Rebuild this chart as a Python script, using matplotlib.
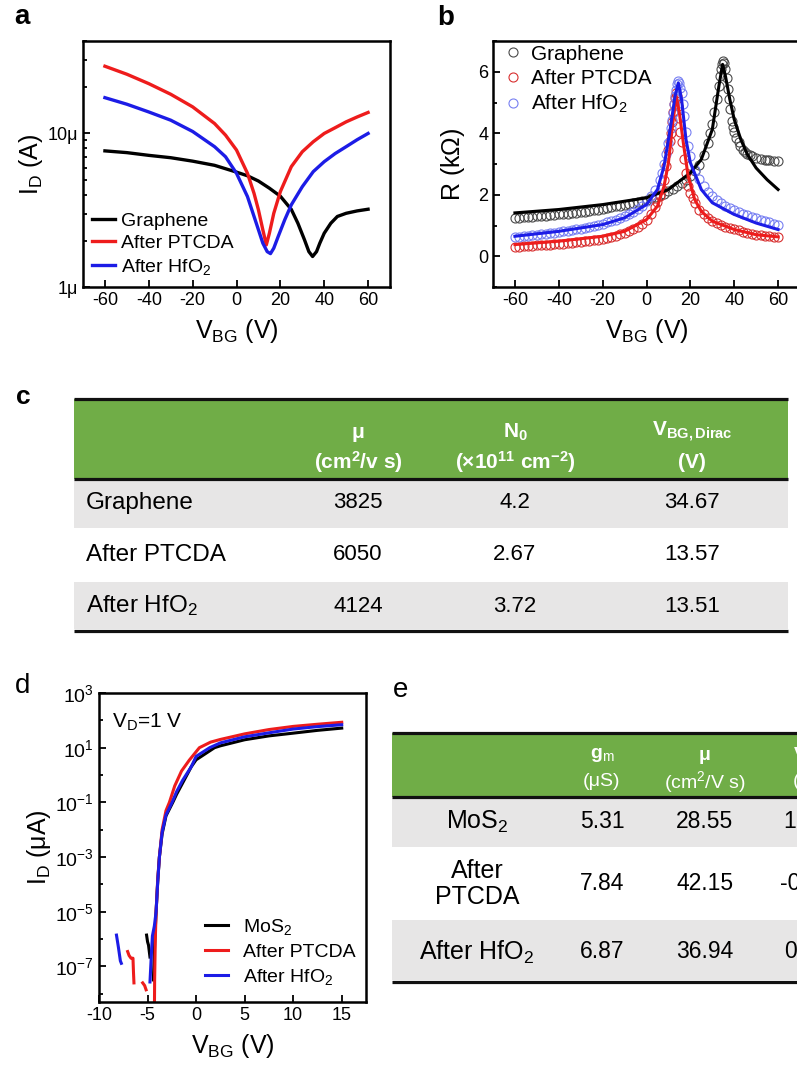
import numpy as np
import matplotlib.pyplot as plt
from matplotlib.patches import Rectangle
from matplotlib.ticker import FixedLocator, LogLocator, MultipleLocator, NullFormatter

plt.rcParams['font.family'] = ['Liberation Sans', 'DejaVu Sans']
plt.rcParams['mathtext.fontset'] = 'custom'
plt.rcParams['mathtext.rm'] = 'Liberation Sans'
plt.rcParams['mathtext.it'] = 'Liberation Sans:italic'
plt.rcParams['mathtext.bf'] = 'Liberation Sans:bold'
plt.rcParams['axes.unicode_minus'] = False

# ---- (a) graphene transfer curves, I_D in uA ----
vg_a_gr = [-60, -50, -40, -30, -20, -10, 0, 5, 10, 15, 20, 25, 28, 31, 33, 34.7, 36.5, 38, 40, 43, 46, 50, 55, 60]
id_a_gr = [7.7, 7.5, 7.2, 6.95, 6.6, 6.2, 5.6, 5.3, 4.9, 4.4, 3.9, 3.2, 2.6, 2.03, 1.7, 1.58, 1.7, 1.93, 2.24, 2.6, 2.88, 3.02, 3.13, 3.21]
vg_a_pt = [-60, -50, -40, -30, -20, -10, -5, 0, 5, 8, 10, 12, 13.6, 15, 17, 20, 25, 30, 35, 40, 45, 50, 55, 60]
id_a_pt = [27.4, 24.3, 21.1, 18.0, 14.9, 11.6, 9.75, 7.8, 5.5, 4.07, 3.18, 2.36, 1.88, 2.24, 3.02, 4.18, 6.08, 7.6, 8.83, 10.0, 10.9, 11.9, 12.8, 13.7]
vg_a_hf = [-60, -50, -40, -30, -20, -10, -5, 0, 5, 8, 10, 12, 14, 15.5, 17, 19, 22, 25, 30, 35, 40, 45, 50, 55, 60]
id_a_hf = [17.1, 15.5, 13.8, 12.2, 10.3, 8.2, 7.05, 5.5, 3.88, 2.88, 2.36, 1.93, 1.7, 1.65, 1.79, 2.13, 2.74, 3.43, 4.5, 5.64, 6.55, 7.4, 8.2, 9.1, 10.0]

# ---- (b) resistance, measured points and fits, kOhm ----
vg_b_gr = [-60, -58, -56, -54, -52, -50, -48, -46, -44, -42, -40, -38, -36, -34, -32, -30, -28, -26, -24, -22,
           -20, -18, -16, -14, -12, -10, -8, -6, -4, -2, 0, 2, 4, 6, 8, 10, 12, 14, 16, 18,
           20, 22, 24, 26, 28, 29, 30, 31, 32, 33, 33.5, 34, 34.5, 35, 35.5, 36, 36.5, 37, 37.5, 38,
           39, 39.5, 40, 41, 42, 42.6, 44, 45, 46, 47, 48, 50, 52, 54, 55, 56, 58, 60]
r_b_gr = [1.25, 1.26, 1.27, 1.28, 1.29, 1.30, 1.31, 1.32, 1.33, 1.35, 1.36, 1.37, 1.39, 1.40, 1.42, 1.43, 1.45, 1.47, 1.49, 1.51,
          1.54, 1.56, 1.59, 1.62, 1.65, 1.68, 1.71, 1.74, 1.78, 1.81, 1.84, 1.88, 1.93, 1.98, 2.04, 2.11, 2.19, 2.28, 2.38, 2.48,
          2.60, 2.77, 2.98, 3.28, 3.68, 4.00, 4.30, 4.70, 5.10, 5.55, 5.85, 6.10, 6.25, 6.34, 6.30, 6.10, 5.80, 5.45, 5.10, 4.80,
          4.40, 4.20, 4.05, 3.85, 3.70, 3.60, 3.47, 3.40, 3.34, 3.28, 3.25, 3.20, 3.17, 3.14, 3.13, 3.12, 3.10, 3.09]
vg_b_pt = [-60, -58, -56, -54, -52, -50, -48, -46, -44, -42, -40, -38, -36, -34, -32, -30, -28, -26, -24, -22,
           -20, -18, -16, -14, -12, -10, -8, -6, -4, -2, 0, 2, 4, 5, 6, 7, 8, 9, 10, 10.5,
           11, 11.5, 12, 12.5, 13, 13.5, 14, 14.5, 15, 15.5, 16, 17, 18, 19, 20, 21, 22, 24, 26, 28,
           30, 32, 34, 36, 38, 40, 42, 44, 46, 48, 50, 52, 54, 56, 58, 60]
r_b_pt = [0.30, 0.31, 0.32, 0.33, 0.34, 0.35, 0.36, 0.37, 0.38, 0.39, 0.40, 0.41, 0.43, 0.44, 0.46, 0.47, 0.49, 0.51, 0.53, 0.54,
          0.56, 0.60, 0.63, 0.67, 0.71, 0.76, 0.82, 0.88, 0.96, 1.06, 1.19, 1.36, 1.60, 1.76, 1.95, 2.20, 2.49, 2.95, 3.47, 3.75,
          4.00, 4.35, 4.70, 4.95, 5.15, 5.31, 5.20, 4.88, 4.50, 4.05, 3.70, 3.15, 2.70, 2.28, 2.05, 1.88, 1.74, 1.52, 1.36, 1.24,
          1.14, 1.07, 1.01, 0.96, 0.91, 0.87, 0.84, 0.80, 0.77, 0.73, 0.70, 0.68, 0.66, 0.65, 0.64, 0.63]
vg_b_hf = [-60, -58, -56, -54, -52, -50, -48, -46, -44, -42, -40, -38, -36, -34, -32, -30, -28, -26, -24, -22,
           -20, -18, -16, -14, -12, -10, -8, -6, -4, -2, 0, 2, 4, 6, 7, 8, 9, 10, 11, 11.5,
           12, 12.5, 13, 13.5, 14, 14.5, 15, 15.5, 16, 16.5, 17, 18, 19, 20, 22, 24, 26, 28, 30, 32,
           34, 36, 38, 40, 42, 44, 46, 48, 50, 52, 54, 56, 58, 60]
r_b_hf = [0.63, 0.64, 0.66, 0.67, 0.69, 0.70, 0.72, 0.73, 0.75, 0.77, 0.79, 0.81, 0.83, 0.85, 0.87, 0.90, 0.93, 0.96, 0.99, 1.02,
          1.06, 1.10, 1.15, 1.19, 1.24, 1.30, 1.37, 1.45, 1.54, 1.65, 1.79, 1.96, 2.17, 2.48, 2.71, 3.00, 3.33, 3.69, 4.17, 4.42,
          4.66, 4.95, 5.20, 5.42, 5.60, 5.69, 5.62, 5.48, 5.30, 4.95, 4.56, 4.05, 3.58, 3.25, 2.82, 2.52, 2.30, 2.10, 1.95, 1.84,
          1.73, 1.63, 1.56, 1.50, 1.44, 1.39, 1.34, 1.28, 1.23, 1.19, 1.15, 1.10, 1.06, 1.03]

fit_vg_gr = [-60, -40, -20, 0, 10, 20, 25, 30, 33, 34.7, 36, 38, 40, 43, 46, 50, 55, 60]
fit_r_gr = [1.41, 1.52, 1.68, 1.90, 2.17, 2.71, 3.15, 4.12, 5.53, 6.24, 5.86, 5.10, 4.45, 3.80, 3.31, 2.87, 2.49, 2.17]
fit_vg_pt = [-60, -40, -20, -10, 0, 5, 8, 10, 12, 13.6, 15, 17, 19, 22, 25, 30, 40, 50, 60]
fit_r_pt = [0.38, 0.49, 0.65, 0.81, 1.19, 1.63, 2.28, 3.04, 4.34, 5.20, 4.66, 3.58, 2.60, 1.84, 1.46, 1.14, 0.87, 0.70, 0.63]
fit_vg_hf = [-60, -40, -20, -10, 0, 5, 8, 11, 13, 14.5, 16, 18, 20, 25, 30, 40, 50, 60]
fit_r_hf = [0.65, 0.81, 1.03, 1.25, 1.68, 2.17, 2.93, 4.23, 5.20, 5.64, 5.10, 3.80, 3.04, 2.17, 1.74, 1.36, 1.08, 0.87]

# ---- (c) graphene table ----
c_rows = ['Graphene', 'After PTCDA', 'After HfO$_2$']
c_mu = ['3825', '6050', '4124']
c_n0 = ['4.2', '2.67', '3.72']
c_vdirac = ['34.67', '13.57', '13.51']

# ---- (d) MoS2 transfer curves, I_D in uA (nan separates segments) ----
vg_d_mos = [-5.1, -5.0, -4.9, -4.75, np.nan,
            -4.4, -4.25, -4.12, -3.95, -3.78, -3.5, -3.1, -2.4, -2.0, -1.4, -0.5, 0, 1.9, 2.5, 5, 7.5, 10, 12.5, 15]
id_d_mos = [1.4e-6, 8e-7, 6e-7, 2.2e-7, np.nan,
            3.2e-8, 1e-6, 1e-5, 1.3e-4, 1e-3, 7e-3, 0.032, 0.1, 0.2, 0.5, 2.0, 3.6, 10, 11.7, 19.5, 27, 34, 43, 52]
vg_d_pt = [-7.05, -6.9, -6.7, -6.5, -6.45, -6.4, np.nan, -5.5, -5.3, -5.15, np.nan,
           -4.3, -4.27, -4.2, -4.12, -3.95, -3.78, -3.5, -3.1, -2.75, -2.2, -1.5, -0.7, 0.34, 1.5, 2.5, 5, 7.5, 10, 12.5, 15]
id_d_pt = [3.5e-7, 2.5e-7, 2e-7, 2e-7, 6.3e-8, 2.5e-8, np.nan, 2.5e-8, 2e-8, 1.4e-8, np.nan,
           1e-9, 3.2e-8, 1e-6, 1e-5, 1.6e-4, 1e-3, 1e-2, 0.05, 0.1, 0.4, 1.4, 3.5, 10, 16, 20, 32, 46, 60, 72, 85]
vg_d_hf = [-8.2, -8.0, -7.8, -7.7, np.nan,
           -4.75, -4.6, -4.5, -4.3, -4.12, -3.95, -3.78, -3.5, -3.1, -2.47, -2.0, -1.4, -0.5, 0, 1.4, 2.5, 5, 7.5, 10, 12.5, 15]
id_d_hf = [1.4e-6, 5e-7, 1.6e-7, 1.3e-7, np.nan,
           2.7e-8, 3e-7, 1.3e-6, 3e-6, 1e-5, 1.3e-4, 1e-3, 8e-3, 0.035, 0.1, 0.25, 0.63, 2.0, 4.8, 10, 15, 25, 35, 48, 59, 69]

# ---- (e) MoS2 table ----
e_rows = ['MoS$_2$', 'After\nPTCDA', 'After HfO$_2$']
e_gm = ['5.31', '7.84', '6.87']
e_mu = ['28.55', '42.15', '36.94']
e_vth = ['1.19', '-0.52', '0.27']

RED = '#ee1c1c'
BLUE = '#1c1ce6'
GREEN = '#70ad47'
GRAY = '#e7e6e6'

W, H = 797, 1081
fig = plt.figure(figsize=(W / 100, H / 100), dpi=100)


def px_box(l, t, r, b):
    return [l / W, 1 - b / H, (r - l) / W, (b - t) / H]


def style_axes(ax):
    for s in ax.spines.values():
        s.set_linewidth(1.8)
    ax.tick_params(which='both', direction='in', labelsize=13, width=1.3)
    ax.tick_params(which='major', length=5)
    ax.tick_params(which='minor', length=3)
    ax.tick_params(axis='y', which='both', right=False)
    ax.tick_params(axis='x', which='both', top=False)


# panel a
ax = fig.add_axes(px_box(83, 41, 390, 287))
ax.plot(vg_a_gr, np.array(id_a_gr) * 1e-6, color='black', lw=2.4, label='Graphene')
ax.plot(vg_a_pt, np.array(id_a_pt) * 1e-6, color=RED, lw=2.4, label='After PTCDA')
ax.plot(vg_a_hf, np.array(id_a_hf) * 1e-6, color=BLUE, lw=2.4, label='After HfO$_2$')
ax.set_yscale('log')
ax.set_xlim(-70, 70)
ax.set_ylim(1e-6, 4e-5)
ax.set_xticks([-60, -40, -20, 0, 20, 40, 60])
ax.yaxis.set_major_locator(FixedLocator([1e-6, 1e-5]))
ax.yaxis.set_minor_locator(LogLocator(base=10, subs=np.arange(2, 10)))
ax.yaxis.set_minor_formatter(NullFormatter())
ax.set_yticklabels(['1μ', '10μ'])
style_axes(ax)
ax.set_xlabel('V$_\\mathrm{BG}$ (V)', fontsize=18, labelpad=6)
ax.set_ylabel('I$_\\mathrm{D}$ (A)', fontsize=18, labelpad=2)
ax.legend(loc='lower left', bbox_to_anchor=(0.03, 0.04), frameon=False, fontsize=14,
          handlelength=1.15, handletextpad=0.35, labelspacing=0.25, borderpad=0, borderaxespad=0)

# panel b
bx = fig.add_axes(px_box(493, 41, 800, 287))
bx.plot(vg_b_gr, r_b_gr, 'o', mfc='none', mec='#4a4a4a', ms=6.5, mew=0.8, label='Graphene')
bx.plot(vg_b_pt, r_b_pt, 'o', mfc='none', mec='#d83030', ms=6.5, mew=0.8, label='After PTCDA')
bx.plot(vg_b_hf, r_b_hf, 'o', mfc='none', mec='#7880f2', ms=6.5, mew=0.8, label='After HfO$_2$')
bx.plot(fit_vg_gr, fit_r_gr, color='black', lw=2.2)
bx.plot(fit_vg_pt, fit_r_pt, color=RED, lw=2.2)
bx.plot(fit_vg_hf, fit_r_hf, color=BLUE, lw=2.2)
bx.set_xlim(-70, 70)
bx.set_ylim(-1, 7)
bx.set_xticks([-60, -40, -20, 0, 20, 40, 60])
bx.set_yticks([0, 2, 4, 6])
bx.yaxis.set_minor_locator(MultipleLocator(1))
style_axes(bx)
bx.set_xlabel('V$_\\mathrm{BG}$ (V)', fontsize=18, labelpad=6)
bx.set_ylabel('R (k$\\Omega$)', fontsize=18, labelpad=8)
bx.legend(loc='upper left', bbox_to_anchor=(0.03, 0.985), frameon=False, fontsize=15, numpoints=1,
          handlelength=1.0, handletextpad=0.4, labelspacing=0.25, borderpad=0, borderaxespad=0)

# panel d
dx = fig.add_axes(px_box(99, 693, 366, 1002))
dx.plot(vg_d_mos, id_d_mos, color='black', lw=2.2, label='MoS$_2$')
dx.plot(vg_d_pt, id_d_pt, color=RED, lw=2.2, label='After PTCDA')
dx.plot(vg_d_hf, id_d_hf, color=BLUE, lw=2.2, label='After HfO$_2$')
dx.set_yscale('log')
dx.set_xlim(-9.8, 17.5)
dx.set_ylim(5e-9, 1e3)
dx.set_xticks([-10, -5, 0, 5, 10, 15])
dx.yaxis.set_major_locator(FixedLocator([1e-7, 1e-5, 1e-3, 1e-1, 1e1, 1e3]))
dx.yaxis.set_minor_locator(FixedLocator([1e-8, 1e-6, 1e-4, 1e-2, 1e0, 1e2]))
dx.yaxis.set_minor_formatter(NullFormatter())
style_axes(dx)
dx.tick_params(axis='y', labelsize=14)
dx.set_xlabel('V$_\\mathrm{BG}$ (V)', fontsize=18, labelpad=6)
dx.set_ylabel('I$_\\mathrm{D}$ (μA)', fontsize=18, labelpad=2)
dx.text(0.05, 0.94, 'V$_\\mathrm{D}$=1 V', transform=dx.transAxes, fontsize=15, va='top')
dx.legend(loc='lower left', bbox_to_anchor=(0.397, 0.05), frameon=False, fontsize=14,
          handlelength=1.2, handletextpad=0.75, labelspacing=0.3, borderpad=0, borderaxespad=0)

# overlay for tables and panel letters, in pixel units
ov = fig.add_axes([0, 0, 1, 1], zorder=-1)
ov.set_xlim(0, W)
ov.set_ylim(H, 0)
ov.axis('off')


def draw_table(left, right, top, head_bot, row_edges, bottom):
    ov.add_patch(Rectangle((left, top), right - left, head_bot - top, color=GREEN, lw=0))
    for i in range(len(row_edges) - 1):
        fill = GRAY if i % 2 == 0 else 'white'
        ov.add_patch(Rectangle((left, row_edges[i]), right - left, row_edges[i + 1] - row_edges[i], color=fill, lw=0))
    for y in (top, head_bot, bottom):
        ov.plot([left, right], [y, y], color='#111111', lw=2.3, solid_capstyle='butt')


# table c
draw_table(74, 788, 399, 479, [479, 528, 582, 629], 631)
c_cols = [358, 515, 692]
hdr = dict(color='white', fontweight='bold', ha='center', va='center', fontsize=15)
ov.text(c_cols[0], 432, 'μ', **hdr)
ov.text(c_cols[0], 462, '(cm$^{\\mathbf{2}}$/v s)', **hdr)
ov.text(c_cols[1], 432, 'N$_{\\mathbf{0}}$', **hdr)
ov.text(c_cols[1], 462, '(×10$^{\\mathbf{11}}$ cm$^{\\mathbf{-2}}$)', **hdr)
ov.text(c_cols[2], 432, 'V$_{\\mathbf{BG,Dirac}}$', **hdr)
ov.text(c_cols[2], 462, '(V)', **hdr)
c_rowy = [503, 555, 606]
for i, y in enumerate(c_rowy):
    ov.text(86, y, c_rows[i], fontsize=17.5, ha='left', va='center')
    for x, vals in zip(c_cols, (c_mu, c_n0, c_vdirac)):
        ov.text(x, y, vals[i], fontsize=16, ha='center', va='center')

# table e (its last column runs past the right edge)
draw_table(392, 830, 733, 797, [797, 847, 920, 980], 982)
e_cols = [602, 705, 806]
hdr_e = dict(color='white', ha='center', va='center', fontsize=14)
ov.text(e_cols[0], 755, 'g$_\\mathrm{m}$', fontweight='bold', **hdr_e)
ov.text(e_cols[0], 782, '(μS)', **hdr_e)
ov.text(e_cols[1], 755, 'μ', fontweight='bold', **hdr_e)
ov.text(e_cols[1], 782, '(cm$^2$/V s)', **hdr_e)
ov.text(e_cols[2], 755, 'V$_\\mathrm{th}$', fontweight='bold', **hdr_e)
ov.text(e_cols[2], 782, '(V)', **hdr_e)
e_rowy = [822, 884, 952]
for i, y in enumerate(e_rowy):
    ov.text(477, y, e_rows[i], fontsize=18, ha='center', va='center', multialignment='center', linespacing=1.15)
    for x, vals in zip(e_cols, (e_gm, e_mu, e_vth)):
        ov.text(x, y, vals[i], fontsize=16.5, ha='center', va='center')

# panel letters
ov.text(22, 17, 'a', fontsize=20, fontweight='bold', ha='center', va='center')
ov.text(446, 18, 'b', fontsize=20, fontweight='bold', ha='center', va='center')
ov.text(23, 397, 'c', fontsize=19, fontweight='bold', ha='center', va='center')
ov.text(23, 686, 'd', fontsize=20, ha='center', va='center')
ov.text(401, 690, 'e', fontsize=20, ha='center', va='center')

fig.savefig('out.png', dpi=100)
